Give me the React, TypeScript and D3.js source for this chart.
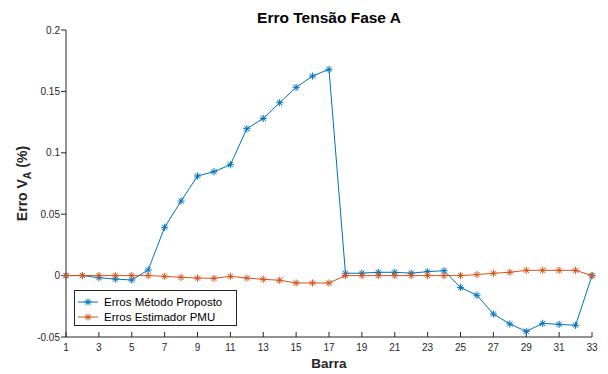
import { scaleLinear, line } from 'd3'

const BARRAS = Array.from({ length: 33 }, (_, i) => i + 1)

const PROPOSTO = [
  0, 0, -0.0017, -0.0028, -0.0036, 0.0046, 0.0393, 0.0607, 0.0811, 0.0846, 0.0903,
  0.1196, 0.128, 0.1408, 0.1533, 0.1625, 0.168, 0.0019, 0.002, 0.0027, 0.0027, 0.002,
  0.0032, 0.004, -0.0096, -0.016, -0.0313, -0.0394, -0.0454, -0.0389, -0.0397, -0.0405, 0,
]

const PMU = [
  0, 0, 0, 0, 0, 0, -0.0006, -0.0014, -0.002, -0.0022, -0.0006, -0.002, -0.003, -0.0038,
  -0.006, -0.006, -0.006, 0, 0, 0, 0, 0, 0, 0, 0, 0.0008, 0.0019, 0.0027, 0.0043, 0.0043,
  0.0043, 0.0043, 0,
]

const X_TICKS = [1, 3, 5, 7, 9, 11, 13, 15, 17, 19, 21, 23, 25, 27, 29, 31, 33]
const Y_TICKS = [-0.05, 0, 0.05, 0.1, 0.15, 0.2]
const SERIES = [
  { name: 'Erros Método Proposto', values: PROPOSTO, color: '#0072BD' },
  { name: 'Erros Estimador PMU', values: PMU, color: '#D95319' },
]

const W = 608
const H = 374
const L = 66
const R = 592
const T = 30
const B = 337
const AX = '#262626'
const FONT = 'Liberation Sans, Arial, Helvetica, sans-serif'

function Star({ x, y, color }: { x: number; y: number; color: string }) {
  const s = 3.6
  const d = s * 0.72
  return (
    <g stroke={color} strokeWidth={1}>
      <line x1={x - s} y1={y} x2={x + s} y2={y} />
      <line x1={x} y1={y - s} x2={x} y2={y + s} />
      <line x1={x - d} y1={y - d} x2={x + d} y2={y + d} />
      <line x1={x - d} y1={y + d} x2={x + d} y2={y - d} />
    </g>
  )
}

export default function App() {
  const x = scaleLinear().domain([1, 33]).range([L, R])
  const y = scaleLinear().domain([-0.05, 0.2]).range([B, T])
  const path = line<number>()
    .x((_, i) => x(BARRAS[i]))
    .y((v) => y(v))

  return (
    <svg
      width={W}
      height={H}
      style={{ position: 'absolute', left: 0, top: 0, background: '#fff' }}
      fontFamily={FONT}
    >
      <rect width={W} height={H} fill="#fff" />

      {/* axes */}
      <line x1={L} y1={T} x2={L} y2={B} stroke={AX} strokeWidth={1} />
      <line x1={L} y1={B} x2={R} y2={B} stroke={AX} strokeWidth={1} />
      {Y_TICKS.map((t) => (
        <g key={t}>
          <line x1={L - 5} y1={y(t)} x2={L} y2={y(t)} stroke={AX} />
          <text x={L - 6} y={y(t)} dy="0.35em" textAnchor="end" fontSize={10} fill={AX}>
            {String(t)}
          </text>
        </g>
      ))}
      {X_TICKS.map((t) => (
        <g key={t}>
          <line x1={x(t)} y1={B - 5} x2={x(t)} y2={B} stroke={AX} />
          <text x={x(t)} y={B + 14} textAnchor="middle" fontSize={10} fill={AX}>
            {t}
          </text>
        </g>
      ))}

      {/* series */}
      {SERIES.map((s) => (
        <g key={s.name}>
          <path d={path(s.values) ?? ''} fill="none" stroke={s.color} strokeWidth={1} />
          {s.values.map((v, i) => (
            <Star key={i} x={x(BARRAS[i])} y={y(v)} color={s.color} />
          ))}
        </g>
      ))}

      {/* labels */}
      <text x={(L + R) / 2} y={23} textAnchor="middle" fontSize={15.5} fontWeight="bold" fill="#000">
        Erro Tensão Fase A
      </text>
      <text x={(L + R) / 2} y={368} textAnchor="middle" fontSize={13.5} fontWeight="bold" fill={AX}>
        Barra
      </text>
      <text
        transform={`translate(27, ${(T + B) / 2}) rotate(-90)`}
        textAnchor="middle"
        fontSize={14}
        fontWeight="bold"
        fill={AX}
      >
        Erro V<tspan fontSize={10.5} dy={4}>A</tspan>
        <tspan dy={-4}> (%)</tspan>
      </text>

      {/* legend */}
      <rect x={74.5} y={290.5} width={162} height={35} fill="#fff" stroke={AX} strokeWidth={1} />
      {SERIES.map((s, i) => {
        const ly = 302 + i * 15
        return (
          <g key={s.name}>
            <line x1={78} y1={ly} x2={98} y2={ly} stroke={s.color} />
            <Star x={88} y={ly} color={s.color} />
            <text x={104} y={ly} dy="0.35em" fontSize={11.5} fill="#000">
              {s.name}
            </text>
          </g>
        )
      })}
    </svg>
  )
}
